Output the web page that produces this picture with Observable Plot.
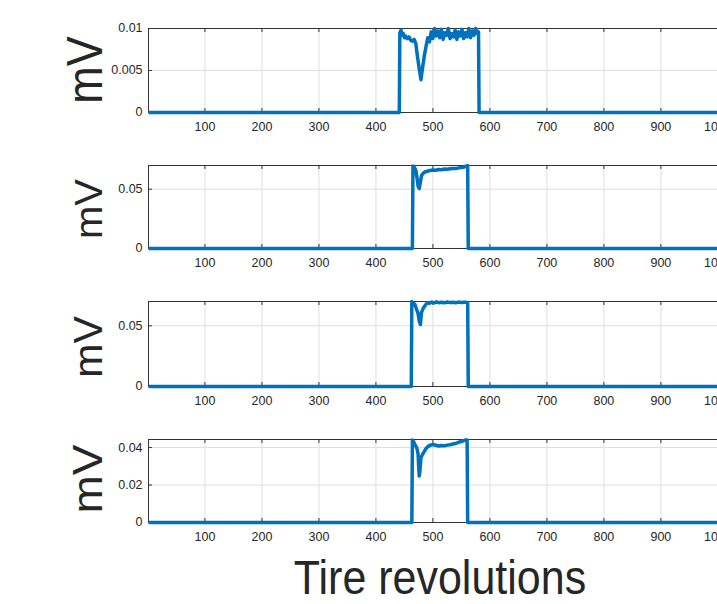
<!DOCTYPE html>
<html>
<head>
<meta charset="utf-8">
<script src="https://cdn.jsdelivr.net/npm/d3@7"></script>
<script src="https://cdn.jsdelivr.net/npm/@observablehq/plot@0.6"></script>
<style>
  html, body { margin: 0; padding: 0; background: #fff; overflow: hidden; }
  #wrap { position: relative; width: 717px; height: 604px; overflow: hidden; background: #fff; }
  #wrap > svg.panel { position: absolute; left: 0; overflow: visible; max-width: none !important; }
  #labels { position: absolute; left: 0; top: 0; pointer-events: none; }
</style>
</head>
<body>
<div id="wrap"></div>
<script>
// ---------- data ----------
const xTicks = [100, 200, 300, 400, 500, 600, 700, 800, 900, 1000];
const xLabel = "Tire revolutions";
const yLabel = "mV";

const revs1 = [1, 441, 442, 444, 446, 448, 450, 452, 455, 458, 461, 464, 467, 470, 473, 476, 479, 482, 485, 488, 491, 494, 497, 500, 503, 506, 509, 512, 515, 518, 521, 524, 527, 530, 533, 536, 539, 542, 545, 548, 551, 554, 557, 560, 563, 566, 569, 572, 575, 578, 580, 581, 1100];
const mv1 = [0, 0, 0.0095, 0.0098, 0.0092, 0.0094, 0.0089, 0.0091, 0.0088, 0.0090, 0.0086, 0.0085, 0.0087, 0.0082, 0.0066, 0.0052, 0.0039, 0.0054, 0.0068, 0.0079, 0.0089, 0.0084, 0.0096, 0.0088, 0.0100, 0.0091, 0.0097, 0.0089, 0.0099, 0.0087, 0.0095, 0.0092, 0.0100, 0.0088, 0.0094, 0.0090, 0.0098, 0.0087, 0.0096, 0.0091, 0.0099, 0.0088, 0.0095, 0.0090, 0.0100, 0.0089, 0.0097, 0.0092, 0.0100, 0.0094, 0.0096, 0, 0];
const yTicks1 = [0, 0.005, 0.01];

const revs2 = [1, 464, 465, 467, 470, 472, 474, 476, 478, 480, 483, 486, 490, 495, 500, 505, 510, 515, 520, 525, 530, 535, 540, 545, 550, 555, 558, 561, 562, 1100];
const mv2 = [0, 0, 0.0695, 0.0690, 0.0660, 0.0600, 0.0525, 0.0505, 0.0560, 0.0615, 0.0635, 0.0645, 0.0652, 0.0658, 0.0662, 0.0660, 0.0666, 0.0664, 0.0670, 0.0668, 0.0672, 0.0675, 0.0674, 0.0680, 0.0683, 0.0688, 0.0695, 0.0698, 0, 0];
const yTicks2 = [0, 0.05];

const revs3 = [1, 462, 463, 465, 468, 471, 474, 476, 478, 480, 483, 486, 490, 494, 498, 502, 506, 510, 515, 520, 525, 530, 535, 540, 545, 550, 555, 559, 561, 562, 1100];
const mv3 = [0, 0, 0.0700, 0.0688, 0.0680, 0.0640, 0.0600, 0.0540, 0.0510, 0.0610, 0.0645, 0.0665, 0.0690, 0.0685, 0.0695, 0.0688, 0.0697, 0.0690, 0.0694, 0.0689, 0.0696, 0.0691, 0.0693, 0.0690, 0.0695, 0.0692, 0.0694, 0.0693, 0.0690, 0, 0];
const yTicks3 = [0, 0.05];

const revs4 = [1, 463, 464, 466, 468, 470, 472, 474, 475, 476, 477, 479, 482, 485, 488, 491, 495, 500, 505, 510, 515, 520, 525, 530, 535, 540, 545, 550, 555, 558, 560, 561, 1100];
const mv4 = [0, 0, 0.0440, 0.0432, 0.0418, 0.0408, 0.0395, 0.0365, 0.0300, 0.0248, 0.0270, 0.0345, 0.0365, 0.0380, 0.0395, 0.0405, 0.0412, 0.0416, 0.0412, 0.0408, 0.0411, 0.0409, 0.0413, 0.0415, 0.0419, 0.0422, 0.0428, 0.0432, 0.0438, 0.0441, 0.0440, 0, 0];
const yTicks4 = [0, 0.02, 0.04];

const yMax = [0.01, 0.07, 0.07, 0.0443];
const xDomain = [1, 1100];

// ---------- layout / style ----------
const series = [[revs1, mv1, yTicks1], [revs2, mv2, yTicks2], [revs3, mv3, yTicks3], [revs4, mv4, yTicks4]];
const panelTop = [28, 165, 301, 439];
const panelH = [84, 83, 85, 83];
const mvLayout = [ // centre y, font size, vertical glyph scale
  [70, 45, 1.12], [209, 40, 0.98], [347, 41, 0.99], [479, 46, 0.91]
];
const marginLeft = 148, marginRight = 10, marginTop = 10, marginBottom = 30;
const plotW = (xDomain[1] - xDomain[0]) * 0.57;
const width = marginLeft + plotW + marginRight;
const blue = "#0072BD";
const ink = "#262626";
const font = "'Liberation Sans', Arial, Helvetica, sans-serif";

const wrap = document.getElementById("wrap");
const fmt = d => d === 0 ? "0" : String(d);

series.forEach(([revs, vals, yTicks], i) => {
  const ph = panelH[i];
  const data = revs.map((r, k) => ({rev: r, mv: vals[k]}));
  const chart = Plot.plot({
    width, height: ph + marginTop + marginBottom,
    marginLeft, marginRight, marginTop, marginBottom,
    style: {fontSize: "12.5px", fontFamily: font, color: ink, background: "transparent", overflow: "visible", maxWidth: "none"},
    x: {domain: xDomain, label: null},
    y: {domain: [0, yMax[i]], label: null},
    marks: [
      Plot.gridX(xTicks, {stroke: "#dedede", strokeOpacity: 1}),
      Plot.gridY(yTicks.filter(t => t > 0 && t < yMax[i]), {stroke: "#dedede", strokeOpacity: 1}),
      Plot.frame({stroke: "#333"}),
      Plot.tickX(xTicks, {x: d => d, insetTop: ph - 4, stroke: "#333"}),
      Plot.tickX(xTicks, {x: d => d, insetBottom: ph - 4, stroke: "#333"}),
      Plot.tickY(yTicks, {y: d => d, insetRight: plotW - 4, stroke: "#333"}),
      Plot.axisX(xTicks, {tickSize: 0, tickPadding: 10, tickFormat: d => String(d), fill: ink, label: null}),
      Plot.axisY(yTicks, {tickSize: 0, tickPadding: 6, tickFormat: fmt, fill: ink, label: null}),
      Plot.line(data, {x: "rev", y: "mv", stroke: blue, strokeWidth: 3.5, strokeLinejoin: "round", strokeLinecap: "butt"})
    ]
  });
  chart.classList.add("panel");
  chart.style.top = (panelTop[i] - marginTop) + "px";
  chart.style.maxWidth = "none";
  chart.style.width = width + "px";
  wrap.appendChild(chart);
});

// text overlay
const ns = "http://www.w3.org/2000/svg";
const svg = document.createElementNS(ns, "svg");
svg.setAttribute("id", "labels");
svg.setAttribute("width", 717);
svg.setAttribute("height", 604);
mvLayout.forEach(([cy, fs, sy]) => {
  const t = document.createElementNS(ns, "text");
  t.setAttribute("transform", `translate(102,${cy}) rotate(-90) scale(1,${sy})`);
  t.setAttribute("text-anchor", "middle");
  t.setAttribute("font-family", font);
  t.setAttribute("font-size", fs);
  t.setAttribute("fill", ink);
  t.textContent = yLabel;
  svg.appendChild(t);
});
const xt = document.createElementNS(ns, "text");
xt.setAttribute("transform", "translate(440,594) scale(1,1.12)");
xt.setAttribute("text-anchor", "middle");
xt.setAttribute("font-family", font);
xt.setAttribute("font-size", 43);
xt.setAttribute("fill", ink);
xt.textContent = xLabel;
svg.appendChild(xt);
wrap.appendChild(svg);
</script>
</body>
</html>
